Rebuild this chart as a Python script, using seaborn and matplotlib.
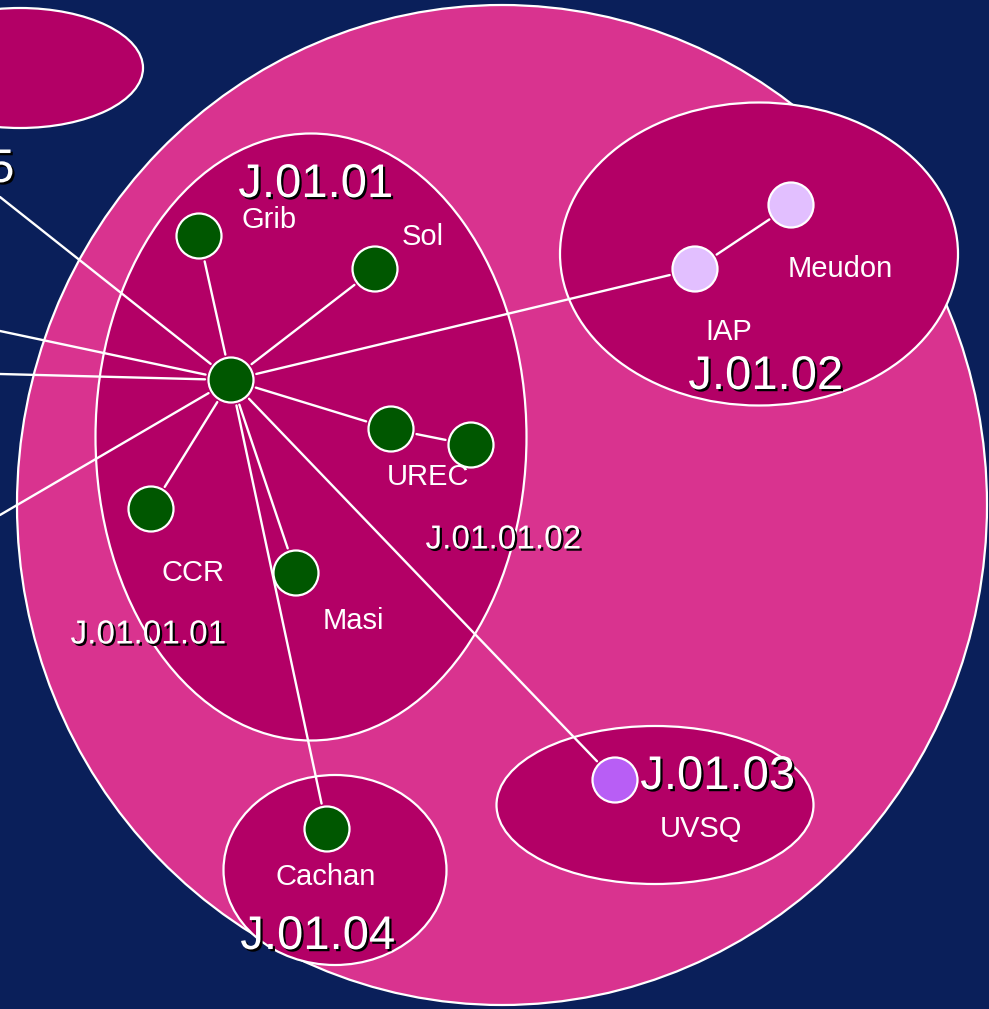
"""Network zone diagram: J.01 sites and their links."""

import matplotlib

matplotlib.use("Agg")
import matplotlib.pyplot as plt
import matplotlib.patheffects as pe
from matplotlib.patches import Ellipse
import numpy as np
import pandas as pd
import seaborn as sns

# zones (pixel coordinates, y pointing down)
zone_names = ["J.01", "J.01.05", "J.01.01", "J.01.02", "J.01.03", "J.01.04"]
zone_cx = [502, 20, 311, 759, 655, 335]
zone_cy = [505, 68, 437, 254, 805, 870]
zone_w = [970, 246, 431, 398, 317, 223]
zone_h = [1000, 120, 607, 303, 158, 190]

# sites
node_names = ["hub", "Grib", "Sol", "UREC_a", "UREC_b", "CCR", "Masi",
              "Cachan", "IAP", "Meudon", "UVSQ"]
node_x = [231, 199, 375, 391, 471, 151, 296, 327, 695, 791, 615]
node_y = [380, 236, 269, 429, 445, 509, 573, 829, 269, 205, 780]
node_kind = ["site", "site", "site", "site", "site", "site", "site",
             "site", "remote", "remote", "uvsq"]

# links leaving the picture on the left
outside_names = ["out1", "out2", "out3", "out4"]
outside_x = [0, 0, 0, 0]
outside_y = [197, 331, 374, 515]

links = [
    ("hub", "Grib"), ("hub", "Sol"), ("hub", "UREC_a"), ("hub", "CCR"),
    ("hub", "Masi"), ("hub", "Cachan"), ("hub", "IAP"), ("hub", "UVSQ"),
    ("hub", "out1"), ("hub", "out2"), ("hub", "out3"), ("hub", "out4"),
    ("UREC_a", "UREC_b"), ("IAP", "Meudon"),
]

# zone labels (big, shadowed) and site labels
zone_label_text = ["J.01.01", "J.01.02", "J.01.03", "J.01.04", "J.01.05",
                   "J.01.01.01", "J.01.01.02"]
zone_label_x = [316, 766, 718, 318, 15, 148, 503]
zone_label_y = [185, 377, 777, 937, 170, 635, 540]
zone_label_ha = ["center", "center", "center", "center", "right",
                 "center", "center"]
zone_label_big = [True, True, True, True, True, False, False]

site_label_text = ["Grib", "Sol", "Meudon", "IAP", "UREC", "CCR", "Masi",
                   "Cachan", "UVSQ"]
site_label_x = [269, 423, 840, 729, 428, 193, 353, 326, 701]
site_label_y = [220, 237, 269, 332, 477, 573, 621, 877, 829]

BG = "#0a1f5a"
OUTER = "#d9338f"
INNER = "#b30066"

sns.set_theme(style="white")
plt.rcParams["font.family"] = ["Liberation Sans", "DejaVu Sans"]

fig = plt.figure(figsize=(9.89, 10.09), dpi=100, facecolor=BG)
ax = fig.add_axes([0, 0, 1, 1])
ax.set_facecolor(BG)

for i, name in enumerate(zone_names):
    ax.add_patch(Ellipse((zone_cx[i], zone_cy[i]), zone_w[i], zone_h[i],
                         facecolor=OUTER if name == "J.01" else INNER,
                         edgecolor="white", linewidth=1.6, zorder=1))

pos = {n: (x, y) for n, x, y in zip(node_names, node_x, node_y)}
pos.update({n: (x, y) for n, x, y in zip(outside_names, outside_x, outside_y)})

rows = []
gap = 26
for k, (a, b) in enumerate(links):
    pa = np.array(pos[a], dtype=float)
    pb = np.array(pos[b], dtype=float)
    d = (pb - pa) / np.linalg.norm(pb - pa)
    if a in node_names:
        pa = pa + d * gap
    if b in node_names:
        pb = pb - d * gap
    rows.append({"link": k, "x": pa[0], "y": pa[1]})
    rows.append({"link": k, "x": pb[0], "y": pb[1]})
edges = pd.DataFrame(rows)
sns.lineplot(data=edges, x="x", y="y", units="link", estimator=None,
             sort=False, color="white", linewidth=1.7, ax=ax, zorder=2)

nodes = pd.DataFrame({"name": node_names, "x": node_x, "y": node_y,
                      "kind": node_kind})
sns.scatterplot(data=nodes, x="x", y="y", hue="kind",
                palette={"site": "#005700", "remote": "#e2bfff",
                         "uvsq": "#b85ef5"},
                s=1050, edgecolor="white", linewidth=1.6, legend=False,
                ax=ax, zorder=3)
ax.set_xlim(0, 989)
ax.set_ylim(1009, 0)
ax.axis("off")

shadow = [pe.withSimplePatchShadow(offset=(1.6, -1.6), shadow_rgbFace="black",
                                   alpha=1.0)]
for t, x, y, ha, big in zip(zone_label_text, zone_label_x, zone_label_y,
                            zone_label_ha, zone_label_big):
    ax.text(x, y, t, color="white", fontsize=34 if big else 24, ha=ha,
            va="center", path_effects=shadow, zorder=5)

for t, x, y in zip(site_label_text, site_label_x, site_label_y):
    ax.text(x, y, t, color="white", fontsize=21, ha="center", va="center",
            zorder=5)

fig.savefig("out.png", dpi=100, facecolor=BG)
